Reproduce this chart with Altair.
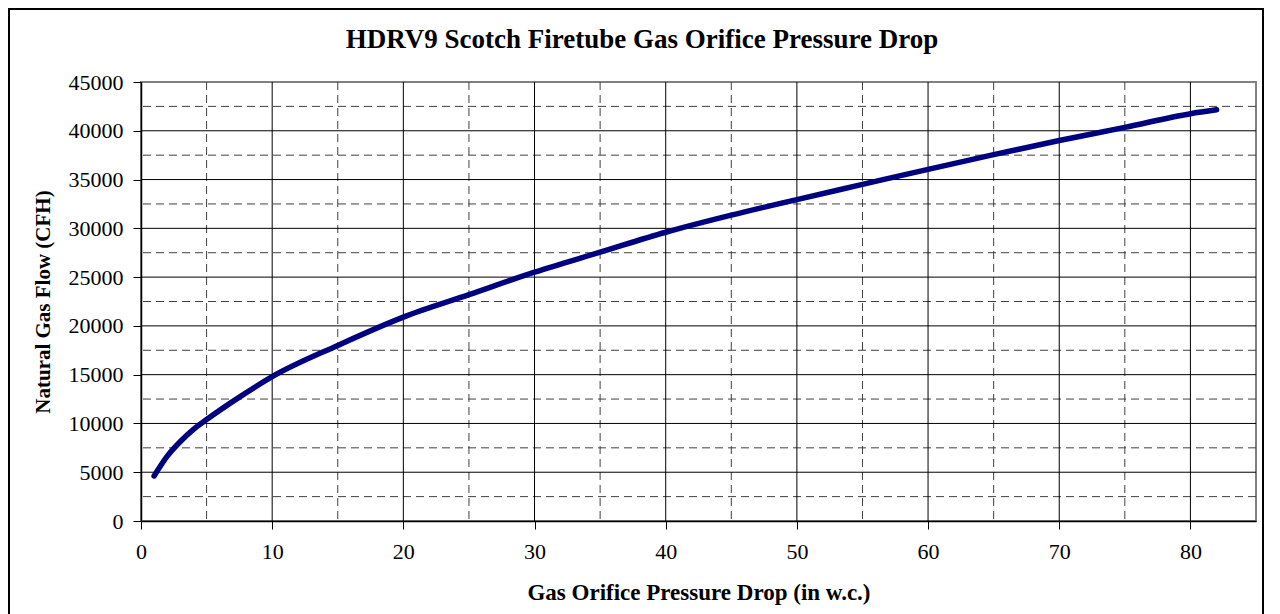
import altair as alt
import pandas as pd

# Data
pressure_drop = [1, 2, 3, 4, 5, 7.5, 10, 15, 20, 25, 30, 35, 40, 45, 50, 55, 60, 65, 70, 75, 80, 82]
gas_flow = [4620, 6650, 8150, 9400, 10400, 12700, 14800, 18000, 20900, 23200, 25500,
            27550, 29600, 31350, 32950, 34500, 36050, 37550, 39000, 40350, 41750, 42150]

x_ticks = [0, 10, 20, 30, 40, 50, 60, 70, 80]
y_ticks = [0, 5000, 10000, 15000, 20000, 25000, 30000, 35000, 40000, 45000]
x_major_grid = [10, 20, 30, 40, 50, 60, 70, 80]
x_minor_grid = [5, 15, 25, 35, 45, 55, 65, 75]
y_major_grid = [5000, 10000, 15000, 20000, 25000, 30000, 35000, 40000]
y_minor_grid = [2500, 7500, 12500, 17500, 22500, 27500, 32500, 37500, 42500]

chart_title = "HDRV9 Scotch Firetube Gas Orifice Pressure Drop"
x_title = "Gas Orifice Pressure Drop (in w.c.)"
y_title = "Natural Gas Flow (CFH)"

FONT = "Liberation Serif"
xscale = alt.Scale(domain=[0, 85], nice=False, zero=False)
yscale = alt.Scale(domain=[0, 45000], nice=False, zero=False)

xaxis = alt.Axis(
    values=x_ticks, grid=False, title=x_title,
    labelFont=FONT, labelFontSize=22, labelColor="black", labelPadding=12,
    titleFont=FONT, titleFontSize=23, titleFontWeight="bold", titleColor="black",
    titlePadding=19, tickSize=8, tickColor="black", domainColor="black",
    domainWidth=1.5, labelFlush=False)
yaxis = alt.Axis(
    values=y_ticks, grid=False, title=y_title,
    labelFont=FONT, labelFontSize=22, labelColor="black", labelPadding=10,
    titleFont=FONT, titleFontSize=21, titleFontWeight="bold", titleColor="black",
    titlePadding=15, tickSize=8, tickColor="black", domainColor="black",
    domainWidth=1.5, labelFlush=False, format="d")

df = pd.DataFrame({"x": pressure_drop, "y": gas_flow})

border = alt.Chart(pd.DataFrame({"a": [0]})).mark_rect(
    filled=False, stroke="black", strokeWidth=2
).encode(x=alt.value(-132), x2=alt.value(1122), y=alt.value(-73), y2=alt.value(560))

title = alt.Chart(pd.DataFrame({"t": [chart_title]})).mark_text(
    font=FONT, fontSize=27, fontWeight="bold", color="black",
    align="center", baseline="middle"
).encode(text="t:N", x=alt.value(501), y=alt.value(-42))

def vrules(vals, dash):
    kw = dict(color="black", strokeWidth=1)
    if dash:
        kw = dict(color="#404040", strokeWidth=1, strokeDash=[8, 5])
    return alt.Chart(pd.DataFrame({"v": vals})).mark_rule(**kw).encode(
        x=alt.X("v:Q", scale=xscale, axis=xaxis))

def hrules(vals, dash):
    kw = dict(color="black", strokeWidth=1)
    if dash:
        kw = dict(color="#404040", strokeWidth=1, strokeDash=[8, 5])
    return alt.Chart(pd.DataFrame({"v": vals})).mark_rule(**kw).encode(
        y=alt.Y("v:Q", scale=yscale, axis=yaxis))

line = alt.Chart(df).mark_line(
    color="#000080", strokeWidth=5.5, strokeCap="round", interpolate="monotone"
).encode(
    x=alt.X("x:Q", scale=xscale, axis=xaxis),
    y=alt.Y("y:Q", scale=yscale, axis=yaxis),
)

chart = alt.layer(
    border, title,
    vrules(x_minor_grid, True), hrules(y_minor_grid, True),
    vrules(x_major_grid, False), hrules(y_major_grid, False),
    line,
).properties(
    width=1115, height=439,
    autosize="none",
    padding={"left": 133, "top": 74, "right": 16, "bottom": 93},
    background="white",
).configure_view(stroke="#808080", strokeWidth=2, fill="white")

chart.save("out.html", embed_options={"renderer": "svg", "actions": False})
